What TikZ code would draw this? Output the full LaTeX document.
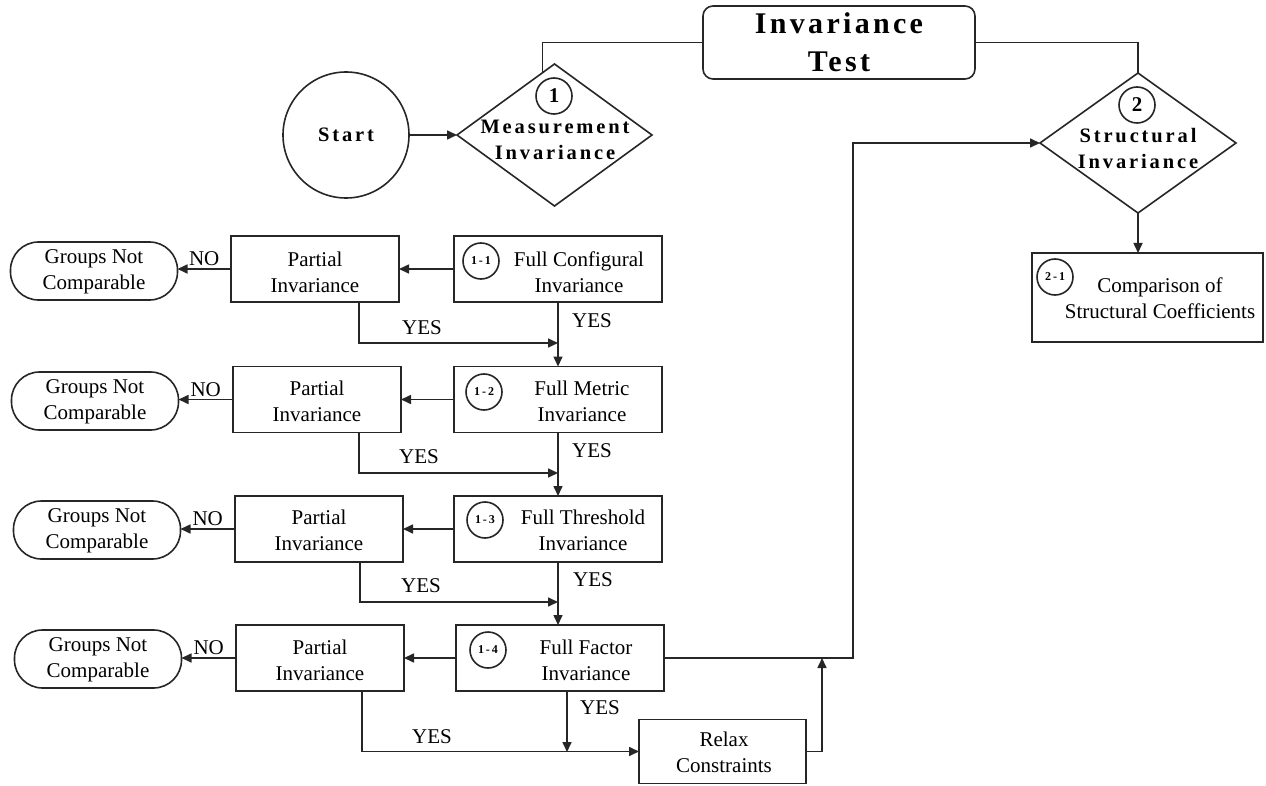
\documentclass[tikz,border=0pt]{standalone}
\usepackage{fontspec}
\setmainfont{Liberation Serif}
\newfontfamily\spacedfont{Liberation Serif}[LetterSpace=14]
\newfontfamily\headfont{Liberation Serif}[LetterSpace=11]
\usetikzlibrary{arrows.meta,shapes.geometric}

\tikzset{
  ln/.style={line width=1.6pt, draw=black!85},
  arr/.style={ln, -{Triangle[length=10pt,width=9pt]}},
  txt/.style={font=\fontsize{21}{26}\selectfont, align=center, inner sep=0pt},
  boldtxt/.style={font=\spacedfont\bfseries\fontsize{20.5}{26}\selectfont, align=center, inner sep=0pt},
  stepbox/.style={ln, rectangle, minimum width=208, minimum height=66, inner sep=0pt, outer sep=0pt},
  partbox/.style={ln, rectangle, minimum width=168, minimum height=66, inner sep=0pt, outer sep=0pt},
  stopbox/.style={ln, rectangle, rounded corners=28, minimum width=167, minimum height=58, inner sep=0pt, outer sep=0pt},
  decision/.style={ln, diamond, inner sep=0pt, outer sep=0pt},
  numc/.style={ln, circle, minimum size=36, inner sep=0pt},
  smallnum/.style={font=\bfseries\fontsize{12}{12}\selectfont},
  bignum/.style={font=\bfseries\fontsize{21}{21}\selectfont},
}

\begin{document}
\begin{tikzpicture}[x=1pt,y=-1pt]
\useasboundingbox (0,0) rectangle (1266,786);

% title and the two invariance stages
\node[ln, rounded corners=10, minimum width=272, minimum height=73, inner sep=0pt, outer sep=0pt,
      font=\headfont\bfseries\fontsize{30}{38}\selectfont, align=center] (title) at (839,42.5) {Invariance\\Test};

\node[ln, circle, minimum size=126, inner sep=0pt, outer sep=0pt] (start) at (346,135) {};
\node[boldtxt] (starttxt) at (346,135) {Start};

\node[decision, minimum width=195, minimum height=142] (d1) at (554.5,135) {};
\node[numc, bignum] (n1) at (554,96) {1};
\node[boldtxt] (d1txt) at (555,140) {Measurement\\Invariance};

\node[decision, minimum width=196, minimum height=140] (d2) at (1138,143) {};
\node[numc, bignum] (n2) at (1137,105) {2};
\node[boldtxt] (d2txt) at (1138,148) {Structural\\Invariance};

\draw[ln] (title.west) -| (d1.101.8);
\draw[ln] (title.east) -| (d2.north);
\draw[arr] (start.east) -- (d1.west);

% structural comparison
\node[ln, rectangle, minimum width=231, minimum height=89, inner sep=0pt, outer sep=0pt] (s21) at (1147.5,297.5) {};
\node[numc, smallnum] (n21) at (1055,277) {2\,-\,1};
\node[txt] (s21txt) at (1160,298) {Comparison of\\Structural Coefficients};
\draw[arr] (d2.south) -- (d2.south |- s21.north);

% measurement invariance steps
\node[stepbox] (fc) at (558,269) {};
\node[numc, smallnum] (c11) at (481,261) {1\,-\,1};
\node[txt] (fctxt) at (579,272) {Full Configural\\Invariance};

\node[stepbox] (fm) at (558,399.5) {};
\node[numc, smallnum] (c12) at (484,392) {1\,-\,2};
\node[txt] (fmtxt) at (582,401) {Full Metric\\Invariance};

\node[stepbox] (ft) at (558,529) {};
\node[numc, smallnum] (c13) at (485,520) {1\,-\,3};
\node[txt] (fttxt) at (583,530) {Full Threshold\\Invariance};

\node[stepbox] (ff) at (560,658) {};
\node[numc, smallnum] (c14) at (488,650) {1\,-\,4};
\node[txt] (fftxt) at (586,660) {Full Factor\\Invariance};

% partial invariance boxes
\node[partbox] (p1) at (315,269) {};
\node[txt] (p1txt) at (315,272) {Partial\\Invariance};
\node[partbox] (p2) at (317,399.5) {};
\node[txt] (p2txt) at (317,401) {Partial\\Invariance};
\node[partbox] (p3) at (319,529) {};
\node[txt] (p3txt) at (319,530) {Partial\\Invariance};
\node[partbox] (p4) at (320,658) {};
\node[txt] (p4txt) at (320,660) {Partial\\Invariance};

% terminal boxes
\node[stopbox] (g1) at (94,271) {};
\node[txt] (g1txt) at (94,272) {Groups Not\\Comparable};
\node[stopbox] (g2) at (95,401) {};
\node[txt] (g2txt) at (95,402) {Groups Not\\Comparable};
\node[stopbox] (g3) at (97,530) {};
\node[txt] (g3txt) at (97,531) {Groups Not\\Comparable};
\node[stopbox] (g4) at (98,659) {};
\node[txt] (g4txt) at (98,660) {Groups Not\\Comparable};

\node[ln, rectangle, minimum width=167, minimum height=64, inner sep=0pt, outer sep=0pt] (relax) at (722.5,751.5) {};
\node[txt] (relaxtxt) at (724,752) {Relax\\Constraints};

% junction points of the YES branches
\coordinate (j1) at (558,343);
\coordinate (j2) at (558,473);
\coordinate (j3) at (558,602);
\coordinate (j4) at (567,752);
\coordinate (up) at (822,658);
\coordinate (bend) at (853,143);

% NO branches
\foreach \s/\p/\g in {fc/p1/g1, fm/p2/g2, ft/p3/g3, ff/p4/g4}{
  \draw[arr] (\s.west) -- (\s.west -| \p.east);
  \draw[arr] (\p.west) -- (\p.west -| \g.east) node[txt, above=2pt, midway] {NO};
}

% YES branches
\draw[arr] (fc.south) -- (fm.north);
\draw[arr] (fm.south) -- (ft.north);
\draw[arr] (ft.south) -- (ft.south |- ff.north);
\draw[arr] ([xshift=44]p1.south) |- (j1);
\draw[arr] ([xshift=42]p2.south) |- (j2);
\draw[arr] ([xshift=41]p3.south) |- (j3);
\draw[arr] ([xshift=42]p4.south) |- (relax.west);
\draw[arr] (ff.south -| j4) -- (j4);

\node[txt] (y1a) at (422,328) {YES};
\node[txt] (y1b) at (592,321) {YES};
\node[txt] (y2a) at (419,457) {YES};
\node[txt] (y2b) at (592,451) {YES};
\node[txt] (y3a) at (421,586) {YES};
\node[txt] (y3b) at (593,580) {YES};
\node[txt] (y4a) at (432,737) {YES};
\node[txt] (y4b) at (600,708) {YES};

% paths to the structural stage
\draw[arr] (relax.east) -| (up);
\draw[arr] (ff.east) -| (bend) -- (d2.west);

\end{tikzpicture}
\end{document}
